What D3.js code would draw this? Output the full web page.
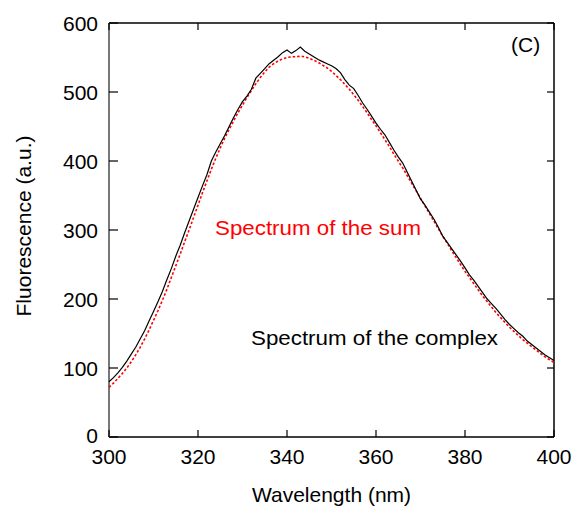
<!DOCTYPE html>
<html><head><meta charset="utf-8">
<script src="https://cdn.jsdelivr.net/npm/d3@7"></script>
<style>html,body{margin:0;padding:0;background:#fff;}svg{display:block;}</style>
</head><body>
<svg id="c" width="578" height="513"></svg>
<script>
const wavelengths = d3.range(300, 401, 1);
const complexSpectrum = [80,86,93,101,110,120,130,142,154,168,182,196,211,228,244,262,278,296,313,330,
347,364,380,400,413,425,437,450,463,475,486,494,504,520,527,534,541,546,551,557,
561,556,560,565,559,555,551,547,544,541,538,534,528,518,510,505,495,484,475,465,
455,446,438,427,416,406,397,384,371,358,345,336,326,316,304,291,282,273,264,255,
245,235,227,218,209,200,193,186,178,170,163,157,151,146,139,134,129,124,119,115,111];
const sumSpectrum = [72,78,85,92,100,109,119,130,142,155,169,183,198,214,231,248,265,283,300,318,
336,354,371,388,404,419,433,446,458,470,481,492,502,512,521,529,536,541,545,548,
550,551,551,552,551,549,546,543,539,535,530,524,518,511,504,496,488,479,470,460,
451,441,431,421,410,400,390,379,368,357,346,335,324,313,302,291,281,270,260,250,
240,231,222,213,204,196,188,180,173,166,159,153,147,141,136,131,126,121,116,112,108];
const xTicks = [300,320,340,360,380,400];
const yTicks = [0,100,200,300,400,500,600];
const labels = {x:"Wavelength (nm)", y:"Fluorescence (a.u.)", panel:"(C)", sum:"Spectrum of the sum", complex:"Spectrum of the complex"};

const svg = d3.select("#c");
const L=109, R=554, T=23, B=437;
const x = d3.scaleLinear().domain([300,400]).range([L,R]);
const y = d3.scaleLinear().domain([0,600]).range([B,T]);
const font = "'Liberation Sans', Arial, sans-serif";

// frame
svg.append("line").attr("x1",L).attr("x2",R).attr("y1",T).attr("y2",T).attr("stroke","#000").attr("stroke-width",1.5);
svg.append("line").attr("x1",R).attr("x2",R).attr("y1",T).attr("y2",B).attr("stroke","#000").attr("stroke-width",1.5);
svg.append("line").attr("x1",L).attr("x2",R).attr("y1",B).attr("y2",B).attr("stroke","#000").attr("stroke-width",1.5);
svg.append("line").attr("x1",L).attr("x2",L).attr("y1",T).attr("y2",B).attr("stroke","#777").attr("stroke-width",2);

// ticks
const g = svg.append("g").attr("stroke","#000").attr("stroke-width",1.2);
xTicks.forEach(t=>{
  g.append("line").attr("x1",x(t)).attr("x2",x(t)).attr("y1",B).attr("y2",B-7);
  g.append("line").attr("x1",x(t)).attr("x2",x(t)).attr("y1",T).attr("y2",T+7);
});
yTicks.forEach(t=>{
  g.append("line").attr("x1",L).attr("x2",L+9).attr("y1",y(t)).attr("y2",y(t));
  g.append("line").attr("x1",R).attr("x2",R-7).attr("y1",y(t)).attr("y2",y(t));
});

// tick labels
svg.append("g").selectAll("text").data(xTicks).join("text")
  .attr("x",d=>x(d)).attr("y",464).attr("text-anchor","middle")
  .attr("font-family",font).attr("font-size",21).text(d=>d);
svg.append("g").selectAll("text").data(yTicks).join("text")
  .attr("x",98).attr("y",d=>y(d)).attr("dy",d=>d===0?"0.28em":"0.36em").attr("text-anchor","end")
  .attr("font-family",font).attr("font-size",21).text(d=>d);

// axis labels
svg.append("text").attr("x",(L+R)/2).attr("y",502).attr("text-anchor","middle")
  .attr("font-family",font).attr("font-size",21).text(labels.x);
svg.append("text").attr("transform","translate(31,226) rotate(-90)").attr("text-anchor","middle")
  .attr("font-family",font).attr("font-size",21).text(labels.y);

// lines
const line = d3.line().x((d,i)=>x(wavelengths[i])).y(d=>y(d));
svg.append("path").datum(sumSpectrum).attr("d",line).attr("fill","none")
  .attr("stroke","#ff0000").attr("stroke-width",1.6).attr("stroke-dasharray","2.5,2");
svg.append("path").datum(complexSpectrum).attr("d",line).attr("fill","none")
  .attr("stroke","#000").attr("stroke-width",1.2);

// annotations
svg.append("text").attr("x",511).attr("y",52).attr("font-family",font).attr("font-size",21).text(labels.panel);
svg.append("text").attr("x",215).attr("y",235).attr("font-family",font).attr("font-size",21)
  .attr("fill","#ff0000").attr("textLength",206).attr("lengthAdjust","spacingAndGlyphs").text(labels.sum);
svg.append("text").attr("x",251).attr("y",345).attr("font-family",font).attr("font-size",21)
  .attr("fill","#000").attr("textLength",247).attr("lengthAdjust","spacingAndGlyphs").text(labels.complex);
</script>
</body></html>
